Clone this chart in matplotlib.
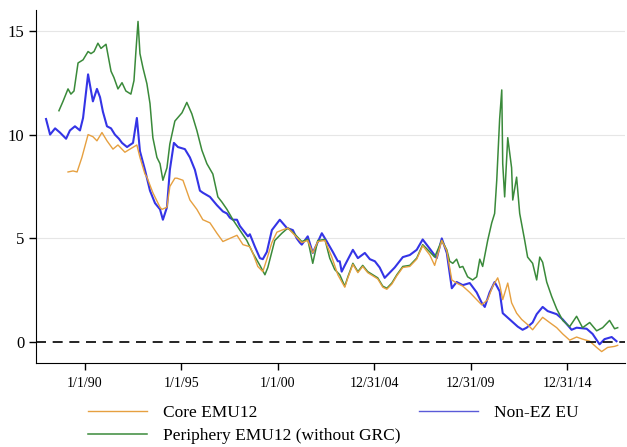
import matplotlib
matplotlib.use("Agg")
import matplotlib.pyplot as plt

plt.rcParams['font.family'] = ['Liberation Serif', 'DejaVu Serif']

# Non-EZ EU (decimal year, yield %)
nonez_t = [1987.98, 1988.19, 1988.45, 1988.70, 1989.02, 1989.22, 1989.48, 1989.74, 1989.90,
           1990.16, 1990.41, 1990.62, 1990.78, 1990.93, 1991.14, 1991.35, 1991.55, 1991.76,
           1991.92, 1992.18, 1992.33, 1992.49, 1992.69, 1992.85, 1993.11, 1993.37, 1993.63,
           1993.89, 1994.04, 1994.25, 1994.40, 1994.61, 1994.82, 1995.18, 1995.44, 1995.70,
           1995.96, 1996.11, 1996.48, 1996.84, 1997.15, 1997.36, 1997.51, 1997.67, 1997.88,
           1998.03, 1998.45, 1998.55, 1998.81, 1999.07, 1999.22, 1999.43, 1999.69, 2000.10,
           2000.47, 2000.78, 2000.98, 2001.14, 2001.24, 2001.55, 2001.81, 2002.28, 2002.54,
           2002.85, 2003.11, 2003.21, 2003.31, 2003.47, 2003.89, 2004.15, 2004.51, 2004.77,
           2005.03, 2005.28, 2005.54, 2005.80, 2006.06, 2006.48, 2006.84, 2007.20, 2007.51,
           2007.88, 2008.24, 2008.50, 2008.76, 2009.02, 2009.27, 2009.59, 2009.95, 2010.31,
           2010.57, 2010.73, 2010.98, 2011.24, 2011.50, 2011.66, 2012.02, 2012.44, 2012.69,
           2012.90, 2013.21, 2013.42, 2013.73, 2013.99, 2014.46, 2014.77, 2015.23, 2015.49,
           2016.01, 2016.32, 2016.68, 2016.94, 2017.31, 2017.56]
nonez_v = [10.75, 10.0, 10.3, 10.1, 9.8, 10.2, 10.4, 10.2, 10.8,
           12.9, 11.6, 12.2, 11.8, 11.1, 10.4, 10.3, 10.0, 9.8,
           9.6, 9.4, 9.5, 9.6, 10.8, 9.2, 8.3, 7.3, 6.7,
           6.4, 5.9, 6.5, 8.3, 9.6, 9.4, 9.3, 8.9, 8.3,
           7.3, 7.2, 7.0, 6.6, 6.3, 6.2, 6.0, 5.9, 5.9,
           5.6, 5.1, 5.2, 4.6, 4.05, 4.0, 4.35, 5.4, 5.9,
           5.5, 5.4, 5.0, 4.8, 4.7, 5.1, 4.3, 5.25, 4.85,
           4.35, 3.9, 3.9, 3.4, 3.7, 4.45, 4.05, 4.3, 4.0,
           3.9, 3.6, 3.1, 3.35, 3.6, 4.1, 4.2, 4.45, 4.95,
           4.5, 4.05, 5.0, 4.3, 2.6, 2.9, 2.75, 2.85, 2.4,
           1.9, 1.7, 2.4, 2.9, 2.45, 1.4, 1.1, 0.75, 0.6,
           0.7, 0.95, 1.35, 1.7, 1.5, 1.35, 1.1, 0.6, 0.7,
           0.65, 0.4, -0.1, 0.15, 0.25, 0.05]

# Core EMU12
core_t = [1989.12, 1989.38, 1989.59, 1989.84, 1990.16, 1990.41, 1990.62, 1990.88, 1991.14,
          1991.45, 1991.71, 1992.07, 1992.33, 1992.69, 1992.85, 1993.11, 1993.21, 1993.52,
          1993.89, 1993.99, 1994.25, 1994.40, 1994.66, 1994.77, 1995.08, 1995.44, 1995.80,
          1996.11, 1996.48, 1996.84, 1997.15, 1997.51, 1997.88, 1998.19, 1998.55, 1998.70,
          1998.96, 1999.22, 1999.43, 1999.69, 1999.95, 2000.21, 2000.52, 2000.88, 2001.24,
          2001.55, 2001.81, 2002.07, 2002.44, 2002.80, 2003.11, 2003.47, 2003.63, 2003.89,
          2004.15, 2004.40, 2004.66, 2004.92, 2005.18, 2005.44, 2005.65, 2005.91, 2006.17,
          2006.48, 2006.84, 2007.20, 2007.51, 2007.88, 2008.13, 2008.50, 2008.76, 2009.02,
          2009.27, 2009.59, 2009.95, 2010.31, 2010.57, 2010.88, 2011.14, 2011.40, 2011.50,
          2011.66, 2011.92, 2012.12, 2012.38, 2012.64, 2012.95, 2013.21, 2013.42, 2013.73,
          2014.09, 2014.46, 2014.77, 2015.13, 2015.49, 2015.80, 2016.17, 2016.53, 2016.79,
          2017.10, 2017.46, 2017.62]
core_v = [8.2, 8.25, 8.2, 8.9, 10.0, 9.9, 9.7, 10.1, 9.7,
          9.3, 9.5, 9.15, 9.3, 9.5, 8.9, 8.1, 7.95, 7.2,
          6.5, 6.4, 6.5, 7.5, 7.9, 7.9, 7.8, 6.85, 6.4,
          5.9, 5.75, 5.25, 4.85, 5.0, 5.15, 4.7, 4.6, 4.3,
          3.65, 3.4, 4.0, 4.8, 5.3, 5.4, 5.5, 5.15, 4.8,
          4.9, 4.3, 4.85, 4.9, 4.1, 3.25, 2.65, 3.1, 3.75,
          3.35, 3.65, 3.35, 3.2, 3.05, 2.65, 2.55, 2.8, 3.2,
          3.6, 3.65, 4.0, 4.65, 4.2, 3.7, 4.9, 4.4, 3.0,
          2.85, 2.7, 2.4, 2.05, 1.8, 2.05, 2.7, 3.1, 2.8,
          2.05, 2.85, 1.9, 1.4, 1.1, 0.85, 0.6, 0.85, 1.2,
          0.95, 0.7, 0.4, 0.1, 0.25, 0.15, 0.05, -0.25, -0.45,
          -0.25, -0.2, -0.15]

# Periphery EMU12 (without GRC)
peri_t = [1988.65, 1988.86, 1989.12, 1989.27, 1989.43, 1989.64, 1989.90, 1990.16, 1990.31,
          1990.47, 1990.67, 1990.83, 1991.09, 1991.24, 1991.35, 1991.50, 1991.71, 1991.92,
          1992.12, 1992.38, 1992.54, 1992.64, 1992.75, 1992.85, 1993.01, 1993.21, 1993.37,
          1993.52, 1993.73, 1993.89, 1994.04, 1994.25, 1994.40, 1994.66, 1995.03, 1995.28,
          1995.54, 1995.80, 1996.06, 1996.32, 1996.63, 1996.89, 1997.10, 1997.36, 1997.67,
          1998.03, 1998.39, 1998.70, 1999.07, 1999.33, 1999.48, 1999.84, 2000.21, 2000.52,
          2000.88, 2001.24, 2001.55, 2001.81, 2002.07, 2002.44, 2002.69, 2002.95, 2003.21,
          2003.47, 2003.63, 2003.89, 2004.15, 2004.40, 2004.66, 2004.92, 2005.18, 2005.44,
          2005.65, 2005.91, 2006.17, 2006.48, 2006.84, 2007.20, 2007.51, 2007.88, 2008.13,
          2008.50, 2008.76, 2008.91, 2009.07, 2009.27, 2009.43, 2009.59, 2009.84, 2010.10,
          2010.31, 2010.47, 2010.62, 2010.88, 2011.09, 2011.24, 2011.35, 2011.50, 2011.61,
          2011.66, 2011.76, 2011.92, 2012.12, 2012.18, 2012.38, 2012.54, 2012.80, 2012.95,
          2013.21, 2013.42, 2013.58, 2013.73, 2013.94, 2014.20, 2014.46, 2014.77, 2015.13,
          2015.49, 2015.80, 2016.17, 2016.53, 2016.84, 2017.20, 2017.46, 2017.62]
peri_v = [11.15, 11.6, 12.2, 11.95, 12.1, 13.45, 13.6, 14.0, 13.9,
          14.0, 14.4, 14.15, 14.35, 13.6, 13.05, 12.75, 12.2, 12.5,
          12.1, 11.95, 12.6, 14.0, 15.45, 13.9, 13.2, 12.45, 11.5,
          9.85, 8.9, 8.6, 7.8, 8.4, 9.55, 10.65, 11.05, 11.55,
          11.0, 10.2, 9.25, 8.6, 8.1, 7.0, 6.75, 6.4, 5.9,
          5.4, 4.9, 4.3, 3.7, 3.25, 3.6, 4.9, 5.25, 5.5,
          5.2, 4.85, 4.95, 3.8, 4.9, 4.95, 4.05, 3.5, 3.25,
          2.7, 3.15, 3.8, 3.4, 3.7, 3.4, 3.25, 3.1, 2.7,
          2.6, 2.85, 3.25, 3.65, 3.7, 4.05, 4.7, 4.35, 4.1,
          4.9, 4.45, 3.9, 3.8, 4.0, 3.6, 3.65, 3.15, 3.0,
          3.15, 4.0, 3.65, 4.9, 5.75, 6.2, 7.8, 10.75, 12.15,
          8.6, 7.0, 9.85, 8.4, 6.85, 7.95, 6.2, 4.9, 4.1,
          3.8, 3.0, 4.1, 3.85, 2.9, 2.2, 1.6, 1.05, 0.75,
          1.25, 0.7, 0.95, 0.55, 0.7, 1.05, 0.65, 0.7]

tick_pos = [1990.0, 1995.0, 2000.0, 2004.997, 2009.997, 2014.997]
tick_labels = ['1/1/90', '1/1/95', '1/1/00', '12/31/04', '12/31/09', '12/31/14']
y_ticks = [0, 5, 10, 15]

fig = plt.figure(figsize=(6.27, 4.47), dpi=100)
ax = fig.add_axes([36/627, 1-363/447, (625-36)/627, (363-10)/447])

ax.set_xlim(1987.46, 2018.0)
ax.set_ylim(-1, 16)

for y in [5, 10, 15]:
    ax.axhline(y, color='#e6e6e6', lw=0.8, zorder=0)

c_core = '#E6A040'
c_peri = '#3A8A3A'
c_nonez = '#3434E6'

l1, = ax.plot(core_t, core_v, color=c_core, lw=1.0, label='Core EMU12', zorder=3)
l3, = ax.plot(nonez_t, nonez_v, color=c_nonez, lw=1.5, label='Non-EZ EU', zorder=2)
l2, = ax.plot(peri_t, peri_v, color=c_peri, lw=1.1, label='Periphery EMU12 (without GRC)', zorder=2.5)

ax.axhline(0, color='black', lw=1.2, ls=(0, (6, 4)), zorder=4)

ax.set_xticks(tick_pos)
ax.set_xticklabels(tick_labels, fontsize=10)
ax.set_yticks(y_ticks)
ax.set_yticklabels([str(v) for v in y_ticks], fontsize=12)
ax.tick_params(axis='both', direction='out', length=5, width=1, color='black')
ax.tick_params(axis='x', pad=5)
ax.spines['top'].set_visible(False)
ax.spines['right'].set_visible(False)

l3_legend = ax.plot([], [], color='#5a5ad8', lw=1.0)[0]
leg = fig.legend([l1, l2, l3_legend], ['Core EMU12', 'Periphery EMU12 (without GRC)', 'Non-EZ EU'],
                 ncol=2, loc='upper left', bbox_to_anchor=(88/627, 1-405/447),
                 frameon=False, fontsize=12.5, handlelength=3.4, handletextpad=0.9,
                 columnspacing=1.1, borderpad=0, borderaxespad=0, labelspacing=0.4)

fig.savefig('out.png', dpi=100)
